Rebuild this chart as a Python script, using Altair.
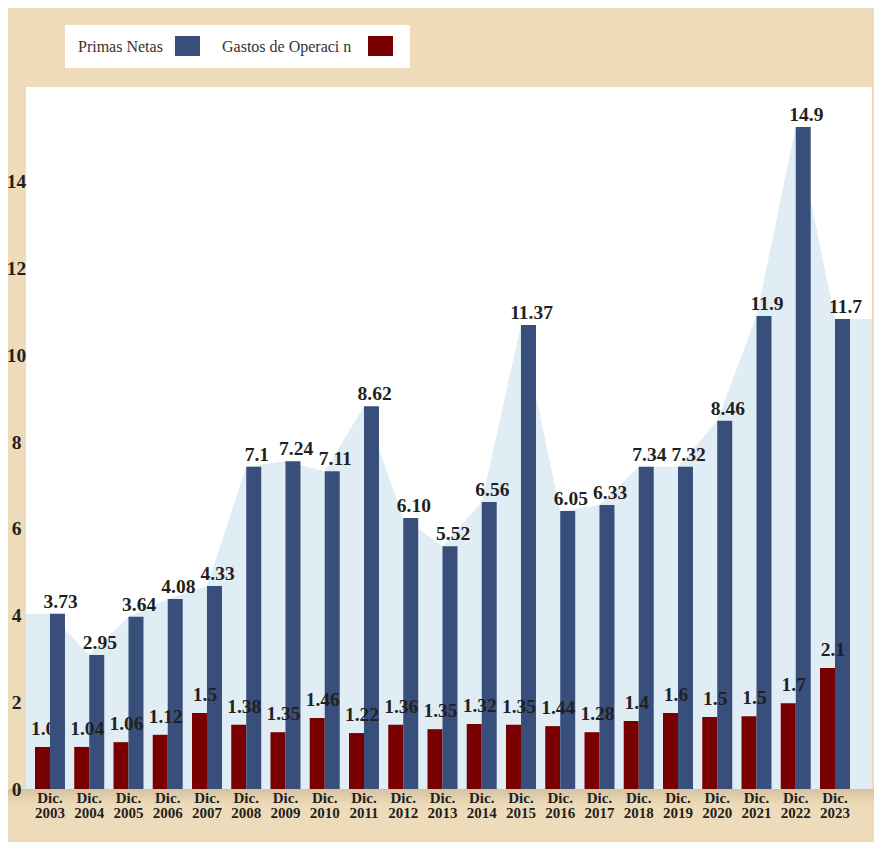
import altair as alt
import pandas as pd

# ---- data ----
years = list(range(2003, 2024))
primas_labels = ["3.73", "2.95", "3.64", "4.08", "4.33", "7.1", "7.24", "7.11", "8.62", "6.10",
                 "5.52", "6.56", "11.37", "6.05", "6.33", "7.34", "7.32", "8.46", "11.9", "14.9", "11.7"]
primas_heights = [4.04, 3.09, 3.97, 4.38, 4.68, 7.43, 7.56, 7.33, 8.83, 6.25,
                  5.60, 6.62, 10.70, 6.41, 6.55, 7.43, 7.43, 8.49, 10.91, 15.27, 10.84]
gastos_labels = ["1.04", "1.04", "1.06", "1.12", "1.5", "1.38", "1.35", "1.46", "1.22", "1.36",
                 "1.35", "1.32", "1.35", "1.44", "1.28", "1.4", "1.6", "1.5", "1.5", "1.7", "2.1"]
gastos_heights = [0.97, 0.97, 1.08, 1.25, 1.75, 1.48, 1.31, 1.64, 1.29, 1.48,
                  1.38, 1.50, 1.48, 1.45, 1.31, 1.57, 1.75, 1.66, 1.68, 1.98, 2.79]
y_ticks = [0, 2, 4, 6, 8, 10, 12, 14]
legend_names = ["Primas Netas", "Gastos de Operaci n"]

# ---- style ----
BG = "#EDDBBA"
BLUE = "#384F7C"
RED = "#780000"
AREA = "#E0EDF4"
INK = "#231F20"
SERIF = "Liberation Serif"
BAR_W = 0.382          # bar width in year units
X_MIN, X_MAX = 2002.389, 2023.943
Y_MAX = 16.19
PW, PH = 846, 702

df = pd.DataFrame({
    "year": years,
    "p": primas_heights,
    "pl": primas_labels,
    "g": gastos_heights,
    "gl": gastos_labels,
})
df["xlab"] = ["Dic.\n" + str(y) for y in years]

area_df = pd.DataFrame({
    "year": [X_MIN] + years + [X_MAX],
    "p": [primas_heights[0]] + primas_heights + [primas_heights[-1]],
})

xs = alt.Scale(domain=[X_MIN, X_MAX], nice=False, zero=False)
ys = alt.Scale(domain=[0, Y_MAX], nice=False)
yaxis = alt.Axis(values=y_ticks, title=None, grid=False, domain=False, ticks=False,
                 tickSize=0, labelPadding=10, labelAlign="center", zindex=2,
                 labelFont=SERIF, labelFontSize=19.5, labelFontWeight="bold",
                 labelColor=INK)


def Y(field):
    return alt.Y(field, scale=ys, axis=yaxis)


def X(field):
    return alt.X(field, scale=xs, axis=None)


base = alt.Chart(df)

shadow = alt.Chart(pd.DataFrame({"k": [0]})).mark_rect(
    color=alt.Gradient(gradient="linear", x1=0, y1=0, x2=0, y2=1,
                       stops=[alt.GradientStop(color="#D6C2A0", offset=0),
                              alt.GradientStop(color=BG, offset=1)])
).encode(x=alt.value(-18), x2=alt.value(PW + 2), y=alt.value(PH), y2=alt.value(PH + 16))

area = alt.Chart(area_df).mark_area(color=AREA, opacity=1).encode(x=X("year:Q"), y=Y("p:Q"))

red_bars = base.transform_calculate(x0="datum.year - %f" % BAR_W).mark_bar(color=RED).encode(
    x=X("x0:Q"), x2="year:Q", y=Y("g:Q"), y2=alt.datum(0),
)
red_text_style = dict(font=SERIF, fontSize=19.5, fontWeight="bold", color=INK,
                      baseline="alphabetic", dy=-12)
red_text_under = base.transform_filter("datum.year == 2003").transform_calculate(
    xc="datum.year - 0.05").mark_text(**red_text_style).encode(
    x=X("xc:Q"), y=Y("g:Q"), text="gl:N")
red_text_over = base.transform_filter("datum.year != 2003").transform_calculate(
    xc="datum.year - 0.05").mark_text(**red_text_style).encode(
    x=X("xc:Q"), y=Y("g:Q"), text="gl:N")

blue_bars = base.transform_calculate(x1="datum.year + %f" % BAR_W).mark_bar(color=BLUE).encode(
    x=X("year:Q"), x2="x1:Q", y=Y("p:Q"), y2=alt.datum(0),
)
blue_text = base.transform_calculate(xc="datum.year + 0.27").mark_text(
    font=SERIF, fontSize=19.5, fontWeight="bold", color=INK, baseline="alphabetic", dy=-6
).encode(x=X("xc:Q"), y=Y("p:Q"), text="pl:N")

x_labels = base.mark_text(
    font=SERIF, fontSize=15, fontWeight="bold", color=INK, baseline="alphabetic",
    lineBreak="\n", lineHeight=15
).encode(x=X("year:Q"), y=alt.value(PH + 14), text="xlab:N")

# manual legend (label followed by swatch, as in the reference)
one = pd.DataFrame({"k": [0]})
leg_box = alt.Chart(one).mark_rect(color="white").encode(
    x=alt.value(39), x2=alt.value(384), y=alt.value(-62), y2=alt.value(-19))
leg_t1 = alt.Chart(one).mark_text(font=SERIF, fontSize=16, color="#333333", align="left",
                                  baseline="alphabetic").encode(
    x=alt.value(52), y=alt.value(-35), text=alt.value(legend_names[0]))
leg_s1 = alt.Chart(one).mark_rect(color=BLUE).encode(
    x=alt.value(149), x2=alt.value(174), y=alt.value(-51), y2=alt.value(-31))
leg_t2 = alt.Chart(one).mark_text(font=SERIF, fontSize=16, color="#333333", align="left",
                                  baseline="alphabetic").encode(
    x=alt.value(196), y=alt.value(-35), text=alt.value(legend_names[1]))
leg_s2 = alt.Chart(one).mark_rect(color=RED).encode(
    x=alt.value(342), x2=alt.value(367), y=alt.value(-51), y2=alt.value(-31))

chart = alt.layer(
    shadow, area, red_bars, red_text_under, blue_bars, red_text_over, blue_text, x_labels,
    leg_box, leg_t1, leg_s1, leg_t2, leg_s2,
).properties(
    width=PW, height=PH,
    background=BG,
    padding={"left": 18, "top": 79, "right": 2, "bottom": 53},
    autosize=alt.AutoSizeParams(type="none"),
).configure_view(fill="white", strokeWidth=0)

chart.save("out.html", embed_options={"renderer": "svg", "actions": False})
